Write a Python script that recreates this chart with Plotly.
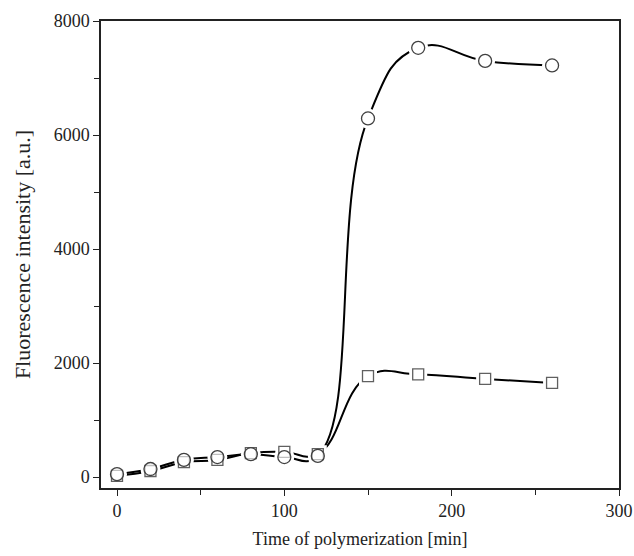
import plotly.graph_objects as go

time_min = [0, 20, 40, 60, 80, 100, 120, 150, 180, 220, 260]
circles = [50, 140, 300, 350, 400, 350, 370, 6290, 7530, 7300, 7220]
squares = [20, 105, 260, 300, 420, 440, 400, 1770, 1800, 1720, 1650]

x_ticks = [0, 100, 200, 300]
y_ticks = [0, 2000, 4000, 6000, 8000]

FONT = "Liberation Serif"

fig = go.Figure()
for ys in (squares, circles):
    fig.add_trace(go.Scatter(x=time_min, y=ys, mode="lines",
                             line=dict(color="black", width=2, shape="spline", smoothing=1.3),
                             showlegend=False, hoverinfo="skip"))
# white halos producing the gap between the line and each symbol
fig.add_trace(go.Scatter(x=time_min, y=squares, mode="markers",
                         marker=dict(symbol="square", size=18, color="white", line=dict(width=0)),
                         showlegend=False, hoverinfo="skip"))
fig.add_trace(go.Scatter(x=time_min, y=circles, mode="markers",
                         marker=dict(symbol="circle", size=20, color="white", line=dict(width=0)),
                         showlegend=False, hoverinfo="skip"))
fig.add_trace(go.Scatter(x=time_min, y=squares, mode="markers", name="squares",
                         marker=dict(symbol="square", size=11, color="white",
                                     line=dict(color="#606060", width=1.3)),
                         showlegend=False))
fig.add_trace(go.Scatter(x=time_min, y=circles, mode="markers", name="circles",
                         marker=dict(symbol="circle", size=13, color="rgba(255,255,255,0.6)",
                                     line=dict(color="#404040", width=1.3)),
                         showlegend=False))

axis_common = dict(showgrid=False, zeroline=False, showline=True, linecolor="#222", linewidth=1.5,
                   mirror=True, ticks="outside", ticklen=6, tickwidth=1.2, tickcolor="#222",
                   automargin=False, ticklabeloverflow="allow",
                   tickfont=dict(family=FONT, size=18, color="#222"))

fig.update_xaxes(range=[-9.56, 300], tickvals=x_ticks,
                 minor=dict(ticks="outside", ticklen=5, tickwidth=1.2, tickcolor="#222", dtick=50, tick0=0),
                 title=dict(text="Time of polymerization [min]", font=dict(family=FONT, size=18, color="#222"), standoff=12),
                 **axis_common)
fig.update_yaxes(range=[-193, 8000], tickvals=y_ticks,
                 minor=dict(ticks="outside", ticklen=5, tickwidth=1.2, tickcolor="#222", dtick=1000, tick0=0),
                 title=dict(text="Fluorescence intensity [a.u.]", font=dict(family=FONT, size=22, color="#222"), standoff=17),
                 **axis_common)

fig.update_layout(width=634, height=556, margin=dict(l=101, r=15, t=21, b=68),
                  paper_bgcolor="white", plot_bgcolor="white")

fig.write_html("out.html")
